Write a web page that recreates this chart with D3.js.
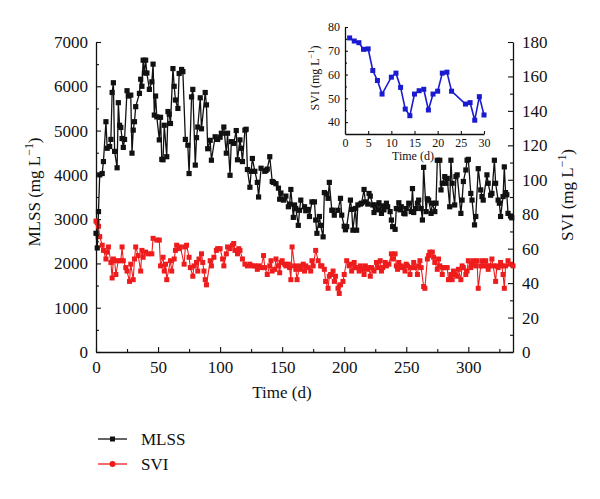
<!DOCTYPE html>
<html><head><meta charset="utf-8">
<script src="https://cdn.jsdelivr.net/npm/d3@7"></script>
<style>body{margin:0;background:#fff}svg{display:block}svg text{font-family:'Liberation Serif','DejaVu Serif',serif !important;fill:#111}</style>
</head><body>
<svg id="c" width="600" height="499"></svg>
<script>
// ---- data ----
const mlssDays = [0,1,2,3,5,6,8,9,11,12,13,14,15,17,18,19,20,21,22,23,25,26,28,29,30,31,32,35,36,37,38,39,40,41,43,45,46,47,48,49,51,52,53,54,55,57,58,59,60,62,63,64,66,67,69,70,72,74,75,77,78,80,81,82,84,85,88,89,90,92,93,96,98,100,101,103,105,106,108,109,111,113,114,116,117,118,120,121,122,124,125,126,128,130,131,133,136,137,138,140,142,143,145,147,148,149,151,153,155,156,157,159,160,161,163,164,165,168,169,171,172,174,176,177,178,180,181,183,184,186,187,188,190,191,192,195,197,198,200,201,202,205,206,207,209,210,211,213,214,216,217,219,220,221,223,224,225,227,228,230,231,232,234,235,237,238,239,241,242,244,245,246,248,249,250,252,254,255,256,258,259,260,262,263,264,266,267,268,270,271,273,274,275,277,278,279,281,282,283,285,286,287,289,290,291,294,295,296,298,299,300,302,303,305,306,308,310,311,312,315,316,318,319,321,322,324,325,326,328,329,330,331,332,334,335];
const mlssValues = [2680,2350,3170,4000,4030,4300,5200,4600,4640,4800,5860,6080,4530,4160,5630,5120,5070,4820,4620,4800,5900,5780,5800,4490,5010,5200,5540,5840,6160,6000,6590,6300,6590,6300,5930,6100,6500,5350,5780,5310,4790,5300,4350,4340,5120,4410,5430,5370,5160,6400,6000,5690,5500,6290,6380,6330,4800,4670,4030,5760,5930,4220,4840,5080,5740,5040,5860,5580,4590,4780,4330,4860,4800,4850,4940,5080,4490,4940,3990,4750,4710,5000,4340,4790,4600,4300,5010,5030,4120,3720,4080,4370,4080,3830,3500,4150,4080,4100,4130,4410,3850,3830,3800,3700,3450,3590,3430,3520,3280,3340,3670,3040,3320,3240,2860,3200,3430,3280,3190,3220,3060,3390,3390,2980,2680,3060,2860,2600,3600,3570,3470,3830,3200,3200,3090,3200,3470,3090,2840,2760,2830,3430,3220,2750,3240,2750,3320,3340,3360,3670,3390,3340,3580,3520,3320,3150,3320,3210,3370,3130,3300,3210,3360,3280,3170,2980,2830,2770,3240,3370,3210,3280,3130,3120,3240,3360,3170,3690,3150,3240,3360,3430,3240,2980,4170,3170,3460,3430,3130,3360,3170,3360,4330,4330,3660,3810,3960,3810,3920,3280,4330,3810,3320,3960,4000,3130,3430,3850,4110,4330,4350,3580,3430,2870,3060,4140,3660,3510,3430,4000,3810,3540,3580,4330,3810,3430,3360,3060,3510,4180,3600,3550,3130,3070,3030];
const sviDays = [0,1,2,3,5,6,8,9,10,12,13,14,15,16,18,20,21,22,24,25,27,28,30,31,32,34,36,37,38,40,42,45,46,49,51,52,54,55,56,57,60,61,63,64,65,67,68,71,72,73,75,76,78,79,81,82,83,85,86,87,88,89,92,93,95,97,98,100,102,103,105,106,108,110,111,112,114,115,116,118,120,122,124,126,128,130,131,133,135,136,138,140,141,142,144,145,147,148,149,150,152,153,155,156,157,158,160,161,162,164,165,167,168,169,171,173,174,175,177,179,181,182,184,185,187,188,189,191,192,193,195,196,197,199,200,202,204,205,206,208,209,210,212,213,214,216,217,218,220,221,222,224,226,227,229,230,231,233,234,236,238,239,241,242,243,244,246,247,249,250,251,253,254,256,257,259,260,261,262,264,265,267,268,269,271,272,273,275,276,277,279,280,281,283,284,286,287,288,289,291,292,294,295,296,298,299,300,302,303,304,306,307,308,310,311,312,314,315,316,317,319,320,322,323,324,326,327,328,329,330,332,334,336];
const sviValues = [76,75,73,67,62,59,54,58,61,52,43,54,53,45,53,53,61,53,49,47,41,51,42,54,61,56,47,59,55,58,57,57,66,65,65,50,55,47,51,42,53,47,54,59,62,60,61,51,61,62,55,49,44,50,52,47,54,57,52,47,42,39,53,50,55,59,60,60,54,50,57,61,60,62,63,59,57,60,59,54,51,50,51,50,50,48,50,49,56,49,45,50,53,47,48,54,50,46,52,53,51,50,51,49,42,61,50,48,42,50,48,51,47,50,49,47,53,50,59,53,50,50,48,41,37,44,45,47,41,44,37,34,39,41,45,53,50,51,47,52,49,49,47,50,48,45,50,48,49,44,49,47,52,49,53,47,49,52,50,51,57,54,57,50,48,52,50,49,47,51,50,45,49,52,49,45,50,53,49,38,37,54,56,58,58,55,52,48,54,50,45,49,49,49,42,45,42,47,45,44,48,42,50,49,45,47,53,49,51,53,50,53,37,50,53,50,53,50,48,50,54,50,41,50,49,52,50,45,37,50,53,51,50];
const insetDays = [1,2,3,4,5,6,7,8,10,11,12,13,14,15,16,17,18,19,20,21,22,23,26,27,28,29,30];
const insetValues = [75.4,74.1,73.4,70.6,70.8,61.7,57.5,51.8,58.9,60.6,54.6,45.5,42.7,51.8,53.2,53.8,45.1,51.8,53,60.6,61,53,47.6,48.2,40.8,50.7,43];
const xTicks = [0,50,100,150,200,250,300];
const yLeftTicks = [0,1000,2000,3000,4000,5000,6000,7000];
const yRightTicks = [0,20,40,60,80,100,120,140,160,180];
const insetXTicks = [0,5,10,15,20,25,30];
const insetYTicks = [40,50,60,70,80];

const mlss = mlssDays.map((d,i)=>({d, v: mlssValues[i]}));
const svi = sviDays.map((d,i)=>({d, v: sviValues[i]}));
const inset = insetDays.map((d,i)=>({d, v: insetValues[i]}));

const FONT = "'Liberation Serif','DejaVu Serif',serif";
const svg = d3.select("#c").attr("font-family", FONT);
const BLACK = "#111", RED = "#ee1c1c", BLUE = "#1a1ad0";
const fmt = d3.format("d");

// ---- main scales ----
const x = d3.scaleLinear().domain([0,336]).range([96,513]);
const yL = d3.scaleLinear().domain([0,7000]).range([352,42]);
const yR = d3.scaleLinear().domain([0,180]).range([352,42]);

function styleAxis(g, fs){
  g.attr("font-family", FONT).attr("font-size", fs);
  g.select(".domain").attr("stroke", BLACK).attr("stroke-width", 1.3);
  g.selectAll(".tick line").attr("stroke", BLACK).attr("stroke-width", 1.1);
  g.selectAll(".tick text").attr("fill", BLACK);
}
function minor(g, axisFn, scale, vals, len){
  g.call(axisFn(scale).tickValues(vals).tickSize(len).tickFormat(""));
  g.select(".domain").remove();
  g.selectAll(".tick line").attr("stroke", BLACK).attr("stroke-width", 1.1);
}

// minor ticks
minor(svg.append("g").attr("transform","translate(0,352)"), d3.axisTop, x, d3.range(25,336,50), 3);
minor(svg.append("g").attr("transform","translate(96,0)"), d3.axisRight, yL, d3.range(500,7000,1000), 3);
minor(svg.append("g").attr("transform","translate(513,0)"), d3.axisLeft, yR, d3.range(10,180,20), 3);

// major axes (inward ticks)
const gx = svg.append("g").attr("transform","translate(0,352)")
  .call(d3.axisBottom(x).tickValues(xTicks).tickFormat(fmt).tickSizeInner(-5).tickSizeOuter(0).tickPadding(9));
styleAxis(gx, 17);
gx.selectAll(".tick text").attr("dy", null).attr("y", 21);

const gl = svg.append("g").attr("transform","translate(96,0)")
  .call(d3.axisLeft(yL).tickValues(yLeftTicks).tickFormat(fmt).tickSizeInner(-5).tickSizeOuter(0).tickPadding(8));
styleAxis(gl, 17);

const gr = svg.append("g").attr("transform","translate(513,0)")
  .call(d3.axisRight(yR).tickValues(yRightTicks).tickFormat(fmt).tickSizeInner(-5).tickSizeOuter(0).tickPadding(9));
styleAxis(gr, 17);

// axis titles
function unitTitle(sel, name){
  sel.append("tspan").text(name + " (mg L");
  sel.append("tspan").text("−1").attr("font-size","0.7em").attr("dy","-0.55em");
  sel.append("tspan").text(")").attr("dy","0.385em");
}
unitTitle(svg.append("text").attr("transform","translate(40,192) rotate(-90)")
  .attr("text-anchor","middle").attr("font-size",17), "MLSS");
unitTitle(svg.append("text").attr("transform","translate(573,195) rotate(-90)")
  .attr("text-anchor","middle").attr("font-size",17), "SVI");
svg.append("text").attr("x",282).attr("y",398).attr("text-anchor","middle")
  .attr("font-size",17).text("Time (d)");

// ---- inset ----
const ix = d3.scaleLinear().domain([0,30]).range([345,484]);
const iy = d3.scaleLinear().domain([35,80]).range([134,27]);
minor(svg.append("g").attr("transform","translate(345,0)"), d3.axisRight, iy, [45,55,65,75], 2);
const igx = svg.append("g").attr("transform","translate(0,134)")
  .call(d3.axisBottom(ix).tickValues(insetXTicks).tickFormat(fmt).tickSizeInner(-3).tickSizeOuter(0).tickPadding(5));
styleAxis(igx, 12);
igx.selectAll(".tick text").attr("dy", null).attr("y", 13);
const igy = svg.append("g").attr("transform","translate(345,0)")
  .call(d3.axisLeft(iy).tickValues(insetYTicks).tickFormat(fmt).tickSizeInner(-3).tickSizeOuter(0).tickPadding(5));
styleAxis(igy, 12);
unitTitle(svg.append("text").attr("transform","translate(319,78) rotate(-90)")
  .attr("text-anchor","middle").attr("font-size",12), "SVI");
svg.append("text").attr("x",413).attr("y",160).attr("text-anchor","middle")
  .attr("font-size",12).text("Time (d)");

svg.append("path").datum(inset).attr("fill","none").attr("stroke",BLUE).attr("stroke-width",1.6)
  .attr("d", d3.line().x(d=>ix(d.d)).y(d=>iy(d.v)));
svg.append("g").selectAll("rect").data(inset).join("rect")
  .attr("x",d=>ix(d.d)-2.5).attr("y",d=>iy(d.v)-2.5).attr("width",5).attr("height",5).attr("fill",BLUE);

// ---- main series ----
svg.append("path").datum(svi).attr("fill","none").attr("stroke",RED).attr("stroke-width",1.1)
  .attr("d", d3.line().x(d=>x(d.d)).y(d=>yR(d.v)));
svg.append("g").selectAll("rect").data(svi).join("rect")
  .attr("x",d=>x(d.d)-2.5).attr("y",d=>yR(d.v)-2.5).attr("width",5).attr("height",5).attr("fill",RED);

svg.append("path").datum(mlss).attr("fill","none").attr("stroke",BLACK).attr("stroke-width",1.3)
  .attr("d", d3.line().x(d=>x(d.d)).y(d=>yL(d.v)));
svg.append("g").selectAll("rect").data(mlss).join("rect")
  .attr("x",d=>x(d.d)-2.6).attr("y",d=>yL(d.v)-2.6).attr("width",5.2).attr("height",5.2).attr("fill",BLACK);

// ---- legend ----
const legend = [{name:"MLSS", color:BLACK, shape:"square", y:439},{name:"SVI", color:RED, shape:"circle", y:464}];
const lg = svg.append("g");
legend.forEach(l=>{
  lg.append("line").attr("x1",98).attr("x2",127).attr("y1",l.y).attr("y2",l.y)
    .attr("stroke",l.color).attr("stroke-width",1.3);
  if(l.shape==="square") lg.append("rect").attr("x",110).attr("y",l.y-2.5).attr("width",5).attr("height",5).attr("fill",l.color);
  else lg.append("circle").attr("cx",112.5).attr("cy",l.y).attr("r",3).attr("fill",l.color);
  lg.append("text").attr("x",141).attr("y",l.y).attr("dominant-baseline","central")
    .attr("font-size",17).text(l.name);
});
</script>
</body></html>
